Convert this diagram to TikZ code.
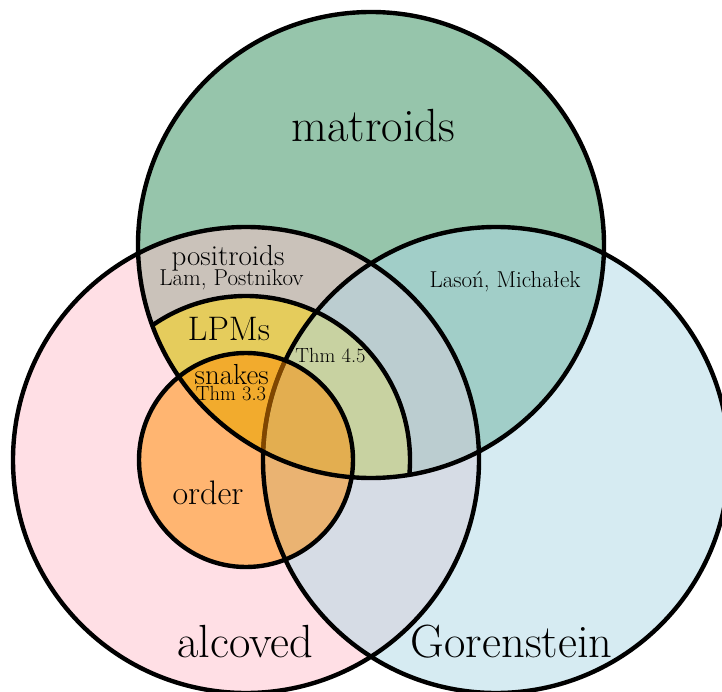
\documentclass[tikz,border=0pt]{standalone}
\usepackage{tikz}
\definecolor{cMat}{RGB}{46,139,87}
\definecolor{cAlc}{RGB}{255,192,203}
\definecolor{cGor}{RGB}{173,216,230}
\definecolor{cLPM}{RGB}{255,215,0}
\definecolor{cOrd}{RGB}{255,140,0}
\tikzset{
  region/.style={fill opacity=0.5},
  rim/.style={draw=black, line width=4.4pt},
  lbl/.style={anchor=base, inner sep=0pt, text=black},
  bigtxt/.style={lbl, font=\fontsize{46.5}{52}\selectfont},
  midtxt/.style={lbl, font=\fontsize{34}{40}\selectfont},
  medtxt/.style={lbl, font=\fontsize{29}{34}\selectfont},
  smalltxt/.style={lbl, font=\fontsize{23}{27}\selectfont},
  thmtxt/.style={lbl, font=\fontsize{20.5}{24}\selectfont},
}
\begin{document}
\begin{tikzpicture}[x=1pt,y=-1pt]
\useasboundingbox (0,0) rectangle (722,692);
\clip (0,0) rectangle (722,692);
\coordinate (M) at (371,245);
\coordinate (A) at (246,460);
\coordinate (G) at (496,460);
% fills
\fill[cMat, region] (M) circle (233pt);
\fill[cAlc, region] (A) circle (233pt);
\begin{scope}
  \clip (M) circle (233pt);
  \fill[cLPM, region] (A) circle (164pt);
\end{scope}
\fill[cGor, region] (G) circle (233pt);
\fill[cOrd, region] (A) circle (107pt);
% Gorenstein rim, tinted where the snakes region lies over it
\draw[rim] (G) circle (233pt);
\begin{scope}
  \clip (M) circle (233pt);
  \clip (A) circle (107pt);
  \draw[draw=cOrd, draw opacity=0.5, line width=4.4pt] (G) circle (233pt);
\end{scope}
% other rims
\draw[rim] (M) circle (233pt);
\draw[rim] (A) circle (233pt);
\begin{scope}
  \clip (M) circle (233pt);
  \draw[rim] (A) circle (164pt);
\end{scope}
\draw[rim] (A) circle (107pt);
% labels
\node[bigtxt] (tmat) at (373.5,142) {matroids};
\node[bigtxt] (talc) at (245.5,657) {alcoved};
\node[bigtxt] (tgor) at (511.7,657) {Gorenstein};
\node[medtxt] (tpos) at (228,265.5) {positroids};
\node[smalltxt] (tlp) at (231.5,285.3) {Lam, Postnikov};
\node[midtxt] (tlpm) at (229,340) {LPMs};
\node[medtxt] (tsnk) at (231.7,384) {snakes};
\node[thmtxt] (tt33) at (231,400.7) {Thm 3.3};
\node[thmtxt] (tt45) at (330.5,362.3) {Thm 4.5};
\node[smalltxt] (tlm) at (505,287.3) {Lasoń, Michałek};
\node[midtxt] (tord) at (208,504) {order};
\end{tikzpicture}
\end{document}
